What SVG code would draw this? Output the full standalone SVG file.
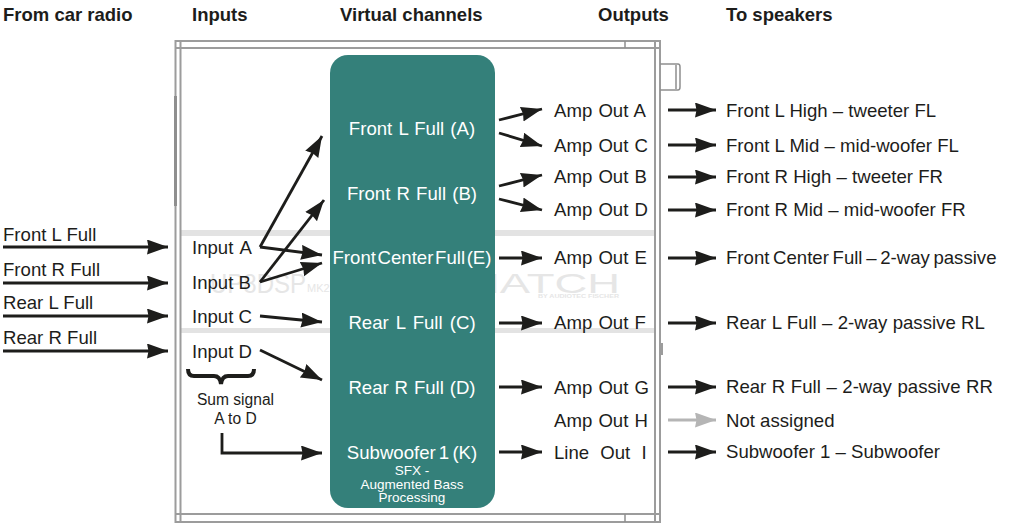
<svg xmlns="http://www.w3.org/2000/svg" width="1010" height="523" viewBox="0 0 1010 523">
<style>
text{font-family:"Liberation Sans",Arial,sans-serif;font-size:18.6px;fill:#1d1d1b}
.h{font-weight:bold;font-size:18.5px}
.w{fill:#fff;text-anchor:middle}
.m{text-anchor:middle}
.s{font-size:13.5px}
.u{font-size:15.6px}
.f{fill:none;stroke:#9c9c9c;stroke-width:2}
.t{fill:none;stroke:#8f8f8f;stroke-width:1.500}
.b{fill:#e3e3e3}
.a{fill:none;stroke:#1d1d1b;stroke-width:2.8;marker-end:url(#ah)}
.g{fill:none;stroke:#b5b5b5;stroke-width:2.8;marker-end:url(#ag)}
.wm{fill:#e6e6e6}
.o{word-spacing:1px}
</style>
<defs>
<marker id="ah" markerUnits="userSpaceOnUse" markerWidth="22" markerHeight="16" refX="21" refY="7.5" orient="auto"><path d="M0 0L21 7.500L0 15L1.500 7.500z" fill="#1d1d1b"/></marker>
<marker id="ag" markerUnits="userSpaceOnUse" markerWidth="22" markerHeight="16" refX="21" refY="7.5" orient="auto"><path d="M0 0L21 7.500L0 15L1.500 7.500z" fill="#b5b5b5"/></marker>
</defs>
<g id="headers">
<text class="h" x="3" y="21">From car radio</text>
<text class="h" x="192" y="21">Inputs</text>
<text class="h" x="340" y="21">Virtual channels</text>
<text class="h" x="598" y="21">Outputs</text>
<text class="h" x="726" y="21">To speakers</text>
</g>
<g id="housing">
<rect class="b" x="180" y="230" width="475" height="6"/>
<rect class="b" x="180" y="328" width="475" height="5"/>
<rect class="f" x="175.500" y="41" width="484.500" height="481"/>
<path class="f" d="M180.500 41V522M655 41V522M175 48H660M175 514H660"/>
<path class="t" d="M625 41V48M625 514V522M660 64H678Q680 64 680 67V87Q680 90 678 90H660M676 65V89"/>
<rect x="174" y="96" width="3" height="110" fill="#8f8f8f"/>
<rect x="659" y="343" width="4" height="12" fill="#9c9c9c"/>
<text class="wm" x="210" y="293" textLength="96" lengthAdjust="spacingAndGlyphs" style="font-size:28px">UP8DSP</text>
<text class="wm" x="307" y="292" style="font-size:11px">MK2</text>
<text class="wm" x="462" y="293" textLength="158" lengthAdjust="spacingAndGlyphs" style="font-size:28px">MATCH</text>
<text class="wm" x="538" y="298" textLength="81" lengthAdjust="spacingAndGlyphs" style="font-size:5px;font-weight:bold">BY AUDIOTEC FISCHER</text>
</g>
<g id="virtual-channels">
<rect x="330" y="55" width="165" height="453" rx="18" fill="#34807a"/>
<text class="w" x="412" y="135" style="word-spacing:1px">Front L Full (A)</text>
<text class="w" x="412" y="200" style="word-spacing:1px">Front R Full (B)</text>
<text class="w" x="412" y="264" style="word-spacing:-3.500px">Front Center Full (E)</text>
<text class="w" x="412" y="329" style="word-spacing:2px">Rear L Full (C)</text>
<text class="w" x="412" y="394" style="word-spacing:.7px">Rear R Full (D)</text>
<text class="w" x="412" y="459" style="word-spacing:-2px">Subwoofer 1 (K)</text>
<text class="w s" x="412" y="475">SFX -</text>
<text class="w s" x="412" y="489">Augmented Bass</text>
<text class="w s" x="412" y="502">Processing</text>
</g>
<g id="sources">
<text x="3" y="241">Front L Full</text>
<text x="3" y="276">Front R Full</text>
<text x="3" y="309">Rear L Full</text>
<text x="3" y="344">Rear R Full</text>
</g>
<g id="inputs">
<text x="192" y="254" style="word-spacing:2px">Input A</text>
<text x="192" y="289">Input B</text>
<text x="192" y="323">Input C</text>
<text x="192" y="358">Input D</text>
<path d="M188 369Q188 376 194 376H214Q220 376 221 384Q222 376 228 376H248Q254 376 254 369" fill="none" stroke="#1d1d1b" stroke-width="4"/>
<text class="m u" x="235.500" y="405">Sum signal</text>
<text class="m u" x="235.500" y="424">A to D</text>
</g>
<g id="outputs">
<text class="o" x="554" y="117">Amp Out A</text>
<text class="o" x="554" y="152">Amp Out C</text>
<text class="o" x="554" y="183">Amp Out B</text>
<text class="o" x="554" y="216">Amp Out D</text>
<text class="o" x="554" y="264">Amp Out E</text>
<text class="o" x="554" y="329">Amp Out F</text>
<text class="o" x="554" y="394">Amp Out G</text>
<text class="o" x="554" y="427">Amp Out H</text>
<text x="554" y="459" style="word-spacing:6px">Line Out I</text>
</g>
<g id="speakers">
<text x="726" y="117">Front L High – tweeter FL</text>
<text x="726" y="152">Front L Mid – mid-woofer FL</text>
<text x="726" y="183">Front R High – tweeter FR</text>
<text x="726" y="216">Front R Mid – mid-woofer FR</text>
<text x="726" y="264" style="word-spacing:-1.500px">Front Center Full – 2-way passive</text>
<text x="726" y="329" style="word-spacing:.2px">Rear L Full – 2-way passive RL</text>
<text x="726" y="393" style="word-spacing:.4px">Rear R Full – 2-way passive RR</text>
<text x="726" y="427">Not assigned</text>
<text x="726" y="458">Subwoofer 1 – Subwoofer</text>
</g>
<g id="connectors">
<path class="a" d="M3 247H168"/><path class="a" d="M3 283H168"/><path class="a" d="M3 316H168"/><path class="a" d="M3 351H168"/>
<path class="a" d="M260 247L322 136"/><path class="a" d="M260 247L322 255"/>
<path class="a" d="M260 282L324 200"/><path class="a" d="M260 282L322 263"/>
<path class="a" d="M260 316L322 322"/><path class="a" d="M260 350L322 380"/>
<path class="a" d="M222 433V453H322"/>
<path class="a" d="M499 120L542 109"/><path class="a" d="M499 133L542 146"/>
<path class="a" d="M499 186L542 175"/><path class="a" d="M499 199L542 210"/>
<path class="a" d="M499 258H542"/><path class="a" d="M499 323H542"/><path class="a" d="M499 387H542"/><path class="a" d="M499 452H542"/>
<path class="a" d="M668 110H716"/><path class="a" d="M668 145H716"/><path class="a" d="M668 177H716"/><path class="a" d="M668 210H716"/>
<path class="a" d="M668 258H716"/><path class="a" d="M668 323H716"/><path class="a" d="M668 387H716"/>
<path class="g" d="M668 420H716"/><path class="a" d="M668 452H716"/>
</g>
</svg>
